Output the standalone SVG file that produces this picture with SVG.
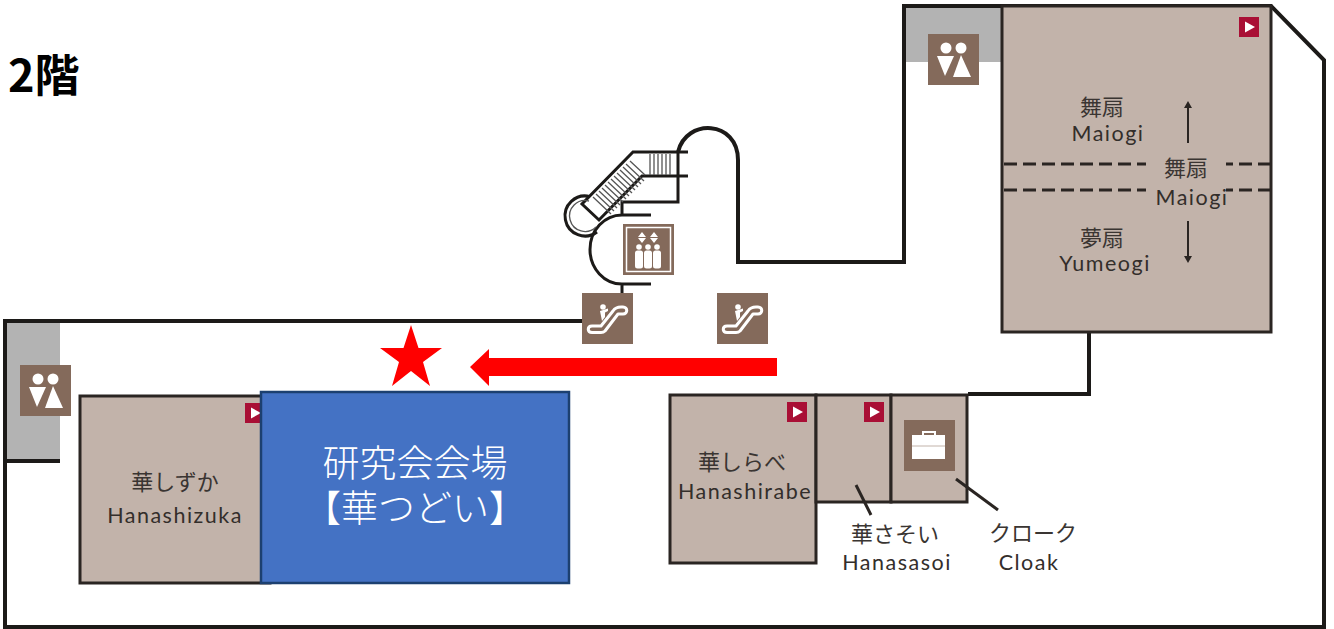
<svg xmlns="http://www.w3.org/2000/svg" width="1334" height="629" viewBox="0 0 1334 629">
<style>
.w{fill:none;stroke:#1c1a18;stroke-width:4}
.t{fill:none;stroke:#1c1a18;stroke-width:3}
.s{fill:none;stroke:#555;stroke-width:1.3}
.room{fill:#c2b3aa;stroke:#2a2522;stroke-width:3}
.ic{fill:#846a5b}
.wh{fill:#fff}
.wl{fill:none;stroke:#fff;stroke-width:3;stroke-linejoin:round}
.j{font-family:"Noto Sans CJK JP",sans-serif;font-size:22px;fill:#3a3532;text-anchor:middle}
.l{font-family:"Lato","Liberation Sans",sans-serif;font-size:21.500px;letter-spacing:1.500px;fill:#332e2b;text-anchor:middle}
.b{font-family:"Noto Sans CJK JP",sans-serif;font-size:37px;font-weight:300;fill:#fff;text-anchor:middle}
.d{stroke:#2a2522;stroke-width:3;stroke-dasharray:13 6;fill:none}
.ln{stroke:#2a2522;stroke-width:2;fill:none}
.lead{stroke:#2a2522;stroke-width:3;fill:none}
</style>
<defs>
<g id="play"><rect width="20" height="20" fill="#a90f35"/><path d="M6 4.500 L16 10 L6 15.500Z" fill="#fff"/></g>
<g id="wc"><rect width="51" height="51" class="ic"/><circle cx="18" cy="14" r="5.500" class="wh"/><circle cx="33" cy="14" r="5.500" class="wh"/><path d="M9 22H26L17 42Z" class="wh"/><path d="M33 21L43 43H25Z" class="wh"/></g>
<g id="esc"><rect width="51" height="51" class="ic"/><path d="M10 33H19L31 18C33 15 35 14 39 14H41C46 14 46 21 41 21H36L23 38C22 39 21 39.500 19 39.500H10C5 39.500 5 33 10 33Z" class="wl"/><circle cx="21" cy="14" r="2.800" class="wh"/><path d="M18 18L26 15.500L26 18L23 19.500V24L20 28Z" class="wh"/></g>
</defs>
<rect width="1334" height="629" fill="#fff"/>
<g id="restroom-shading">
<rect x="906" y="8" width="97" height="54" fill="#b3b3b3"/>
<rect x="7" y="322" width="53" height="139" fill="#b3b3b3"/>
</g>
<g id="connectors">
<path class="w" d="M582 321H5V627H1324V60L1271 6H904V262H738V160C738 120 686 118 678 152"/>
<path class="w" d="M5 461H60"/>
<path class="w" d="M1089 333V394H968"/>
<path class="t" d="M688 152H633L582 204L599 220L642 176H688M678 152V202H622V215M622 215A32 34.500 0 0 0 622 284M622 215H651M622 284H651M622 284V293"/>
<path class="t" d="M590 196.600A20 20 0 1 0 597 232"/>
<path class="s" stroke-width="1.500" d="M589 201A15.500 15.500 0 1 0 596 227"/>
<path class="s" d="M593 197L611 214M596 194L614 211M599 191L617 208M602 188L620 205M605 185L623 202M608 182L626 199M611 179L629 196M614 176L632 193M617 173L635 190M620 170L638 187M623 167L641 184M626 164L644 181M630 161L645 175M650 154V175M654 154V175M658 154V175M662 154V175M666 154V175M670 154V175"/>
</g>
<g id="room-maiogi">
<rect class="room" x="1002" y="6" width="269" height="326"/>
<path class="d" d="M1004 164H1146M1004 190H1146M1271 164H1226M1271 190H1226"/>
<path class="ln" d="M1188 143V108M1188 221V256"/>
<path d="M1184 108L1188 101L1192 108ZM1184 256L1188 263L1192 256Z" fill="#2a2522"/>
<use href="#play" x="1239" y="17"/>
<text class="j" x="1102" y="115">舞扇</text><text class="l" x="1108" y="141">Maiogi</text>
<text class="j" x="1186" y="176">舞扇</text><text class="l" x="1192" y="205">Maiogi</text>
<text class="j" x="1102" y="246">夢扇</text><text class="l" x="1105" y="271">Yumeogi</text>
</g>
<g id="icon-restroom-1"><use href="#wc" x="928" y="34"/></g>
<g id="icon-restroom-2"><use href="#wc" x="20" y="365"/></g>
<g id="icon-elevator">
<rect x="623" y="224" width="51" height="51" class="ic"/>
<rect x="626.500" y="227.500" width="44" height="44" fill="none" stroke="#fff" stroke-width="1.500"/>
<path d="M642 232L646 237H638ZM654 232L658 237H650ZM642 243L646 238H638ZM654 243L658 238H650Z" class="wh"/>
<g class="wh"><circle cx="639" cy="247" r="2.800"/><circle cx="648" cy="247" r="2.800"/><circle cx="657" cy="247" r="2.800"/><rect x="635" y="250.500" width="8" height="18" rx="2.500"/><rect x="644" y="250.500" width="8" height="18" rx="2.500"/><rect x="653" y="250.500" width="8" height="18" rx="2.500"/></g>
</g>
<g id="icon-escalator-1"><use href="#esc" x="582" y="293"/></g>
<g id="icon-escalator-2"><use href="#esc" x="717" y="293"/></g>
<g id="room-hanashizuka">
<rect class="room" x="80" y="396" width="190" height="187"/>
<use href="#play" x="245" y="403"/>
<text class="j" x="175" y="490">華しずか</text><text class="l" x="175" y="523">Hanashizuka</text>
</g>
<g id="room-tsudoi">
<rect x="261" y="392" width="308" height="191" fill="#4472c4" stroke="#1c4070" stroke-width="2.500"/>
<text class="b" x="415" y="477">研究会会場</text>
<text class="b" x="415" y="522">【華つどい】</text>
</g>
<g id="room-hanashirabe">
<rect class="room" x="670" y="395" width="146" height="168"/>
<use href="#play" x="787" y="402"/>
<text class="j" x="742" y="470">華しらべ</text><text class="l" x="745" y="499">Hanashirabe</text>
</g>
<g id="room-hanasasoi">
<rect class="room" x="816" y="395" width="75" height="107"/>
<use href="#play" x="864" y="402"/>
<path class="lead" d="M856 485L871 515"/>
<text class="j" x="895" y="542">華さそい</text><text class="l" x="897" y="570">Hanasasoi</text>
</g>
<g id="room-cloak">
<rect class="room" x="891" y="395" width="76" height="107"/>
<rect x="904" y="420" width="51" height="51" class="ic"/>
<path d="M912 435H945V459H912Z" class="wh"/>
<path d="M923 435V432H935V435" fill="none" stroke="#fff" stroke-width="2"/>
<path d="M912 446H945" stroke="#c2b3aa" stroke-width="1" fill="none"/>
<path class="lead" d="M956 479L998 510"/>
<text class="j" x="1033" y="541">クローク</text><text class="l" x="1029" y="570">Cloak</text>
</g>
<g id="marker-star"><path fill="#f00" d="M411 325L418.500 348H442L423 362L430 386L411 371L392 386L399 362L380 348H403.500Z"/></g>
<g id="marker-arrow"><path fill="#f00" d="M777 358V376H489V386L470 367L489 349V358Z"/></g>
<g id="title"><text x="8" y="92" font-family="'Noto Sans CJK JP',sans-serif" font-weight="700" font-size="45" fill="#000">2階</text></g>
</svg>
